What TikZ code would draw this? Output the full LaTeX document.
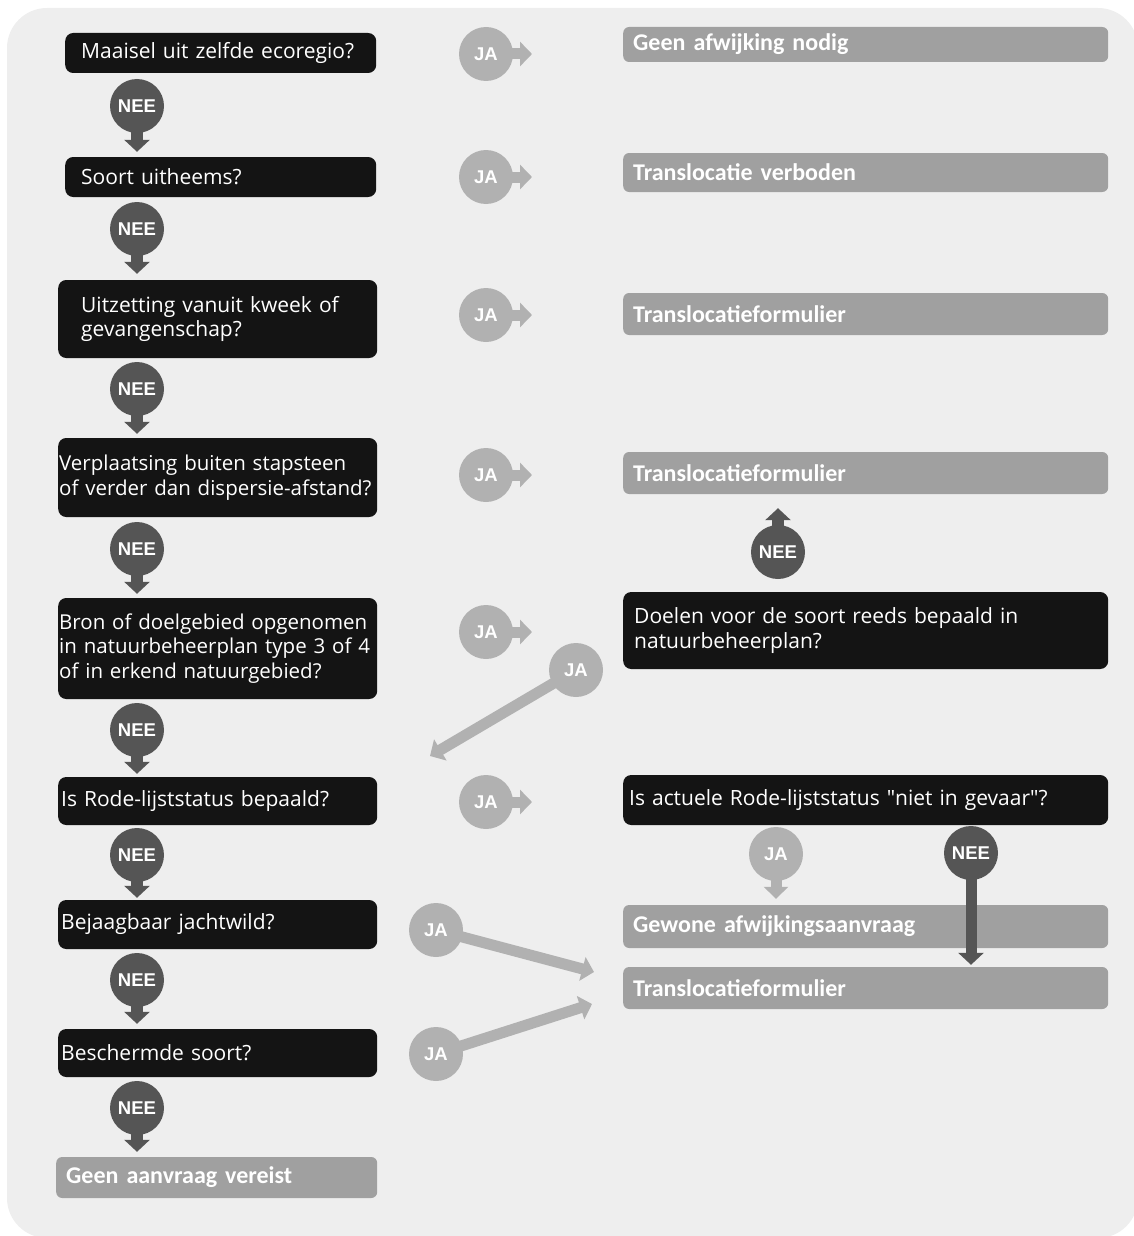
\documentclass[tikz,border=0pt]{standalone}
\usepackage{fontspec}
\setmainfont{Open Sans}
\newfontfamily\resfont{Carlito}
\newfontfamily\tagfont{Liberation Sans}
\usepackage{xcolor}
\usetikzlibrary{arrows.meta}
\definecolor{bggray}{HTML}{EEEEEE}
\definecolor{boxblack}{HTML}{141414}
\definecolor{boxgray}{HTML}{A0A0A0}
\definecolor{neegray}{HTML}{555555}
\definecolor{jagray}{HTML}{B1B1B1}

\begin{document}
\begin{tikzpicture}[x=1pt, y=-1pt,
questionbox/.style={rectangle, rounded corners=8pt, fill=boxblack, text=white, anchor=west, align=left, inner ysep=0pt, font=\fontsize{21}{24.5}\selectfont},
resultbox/.style={rectangle, rounded corners=6pt, fill=boxgray, text=white, anchor=west, align=left, inner ysep=0pt, font=\resfont\bfseries\fontsize{24}{28}\selectfont},
neecircle/.style={circle, fill=neegray, text=white, minimum size=54pt, inner sep=0pt, font=\tagfont\bfseries\fontsize{18.5}{18.5}\selectfont},
jacircle/.style={neecircle, fill=jagray},
neearrow/.style={draw=neegray, line width=12pt, shorten <=-4pt, -{Triangle[width=25pt,length=12pt]}},
jaarrow/.style={draw=jagray, line width=11pt, shorten <=-4pt, -{Triangle[width=24pt,length=12pt]}},
]
\useasboundingbox (0,0) rectangle (1133,1236);
\fill[bggray, rounded corners=40pt] (7,8) rectangle (1138,1238);

%Nodes
\node[questionbox, text width=279pt, inner xsep=16pt, minimum height=40pt](q1) at (65,53) {Maaisel uit zelfde ecoregio?};
\node[questionbox, text width=279pt, inner xsep=16pt, minimum height=40pt](q2) at (65,177) {Soort uitheems?};
\node[questionbox, text width=273pt, inner xsep=23pt, minimum height=78pt](q3) at (58,319) {Uitzetting vanuit kweek of\\gevangenschap?};
\node[questionbox, text width=317pt, inner xsep=1pt, minimum height=79pt, font=\fontsize{20.5}{24.5}\selectfont](q4) at (58,477.5) {Verplaatsing buiten stapsteen\\of verder dan dispersie-afstand?};
\node[questionbox, text width=317pt, inner xsep=1pt, minimum height=101pt, font=\fontsize{20.5}{24.5}\selectfont](q5) at (58,648.5) {Bron of doelgebied opgenomen\\in natuurbeheerplan type 3 of 4\\of in erkend natuurgebied?};
\node[questionbox, text width=313pt, inner xsep=3pt, minimum height=48pt](q6) at (58,801) {Is Rode-lijststatus bepaald?};
\node[questionbox, text width=313pt, inner xsep=3pt, minimum height=49pt](q7) at (58,924.5) {Bejaagbaar jachtwild?};
\node[questionbox, text width=313pt, inner xsep=3pt, minimum height=48pt](q8) at (58,1053) {Beschermde soort?};
\node[resultbox, text width=301pt, inner xsep=10pt, minimum height=41pt](g1) at (56,1177.5) {Geen aanvraag vereist};

\node[resultbox, text width=465pt, inner xsep=10pt, minimum height=35pt](r1) at (623,44.5) {Geen afwijking nodig};
\node[resultbox, text width=465pt, inner xsep=10pt, minimum height=39pt](r2) at (623,172.5) {Translocatie verboden};
\node[resultbox, text width=465pt, inner xsep=10pt, minimum height=42pt](r3) at (623,314) {Translocatieformulier};
\node[resultbox, text width=465pt, inner xsep=10pt, minimum height=42pt](r4) at (623,473) {Translocatieformulier};
\node[questionbox, text width=463pt, inner xsep=11pt, minimum height=77pt](d1) at (623,630.5) {Doelen voor de soort reeds bepaald in\\natuurbeheerplan?};
\node[questionbox, text width=473pt, inner xsep=6pt, minimum height=50pt](d2) at (623,800) {Is actuele Rode-lijststatus \textquotedbl niet in gevaar\textquotedbl ?};
\node[resultbox, text width=465pt, inner xsep=10pt, minimum height=43pt](r5) at (623,926.5) {Gewone afwijkingsaanvraag};
\node[resultbox, text width=465pt, inner xsep=10pt, minimum height=42pt](r6) at (623,988) {Translocatieformulier};

\node[neecircle](n1) at (137,106) {NEE};
\node[neecircle](n2) at (137,229) {NEE};
\node[neecircle](n3) at (137,389) {NEE};
\node[neecircle](n4) at (137,549) {NEE};
\node[neecircle](n5) at (137,730) {NEE};
\node[neecircle](n6) at (137,855) {NEE};
\node[neecircle](n7) at (137,980) {NEE};
\node[neecircle](n8) at (137,1108) {NEE};

\node[jacircle](j1) at (486,54) {JA};
\node[jacircle](j2) at (486,177) {JA};
\node[jacircle](j3) at (486,315) {JA};
\node[jacircle](j4) at (486,475) {JA};
\node[jacircle](j5) at (486,632) {JA};
\node[jacircle](j6) at (486,802) {JA};

\node[neecircle](nd) at (778,552) {NEE};
\node[jacircle](jd) at (576,670) {JA};
\node[jacircle](jr) at (776,854) {JA};
\node[neecircle](nr) at (971,853) {NEE};
\node[jacircle](jb1) at (436,930) {JA};
\node[jacircle](jb2) at (436,1054) {JA};

\coordinate (jdtip) at (430,756);
\coordinate (jb1tip) at (594,972);
\coordinate (jb2tip) at (592,1004);

%Lines
\draw[neearrow, shorten >=5pt] (n1) -- (n1 |- q2.north);
\draw[neearrow, shorten >=6pt] (n2) -- (n2 |- q3.north);
\draw[neearrow, shorten >=4pt] (n3) -- (n3 |- q4.north);
\draw[neearrow, shorten >=4pt] (n4) -- (n4 |- q5.north);
\draw[neearrow, shorten >=3pt] (n5) -- (n5 |- q6.north);
\draw[neearrow, shorten >=2pt] (n6) -- (n6 |- q7.north);
\draw[neearrow, shorten >=5pt] (n7) -- (n7 |- q8.north);
\draw[neearrow, shorten >=5pt] (n8) -- (n8 |- g1.north);

\draw[jaarrow, shorten >=91pt] (j1) -- (j1 -| r1.west);
\draw[jaarrow, shorten >=91pt] (j2) -- (j2 -| r2.west);
\draw[jaarrow, shorten >=91pt] (j3) -- (j3 -| r3.west);
\draw[jaarrow, shorten >=91pt] (j4) -- (j4 -| r4.west);
\draw[jaarrow, shorten >=91pt] (j5) -- (j5 -| d1.west);
\draw[jaarrow, shorten >=91pt] (j6) -- (j6 -| d2.west);

\draw[neearrow, shorten >=14pt] (nd) -- (nd |- r4.south);
\draw[jaarrow] (jd) -- (jdtip);
\draw[jaarrow, shorten >=6pt] (jr) -- (jr |- r5.north);
\draw[neearrow, line width=11pt, shorten >=2pt] (nr) -- (nr |- r6.north);
\draw[jaarrow] (jb1) -- (jb1tip);
\draw[jaarrow] (jb2) -- (jb2tip);
\end{tikzpicture}
\end{document}
